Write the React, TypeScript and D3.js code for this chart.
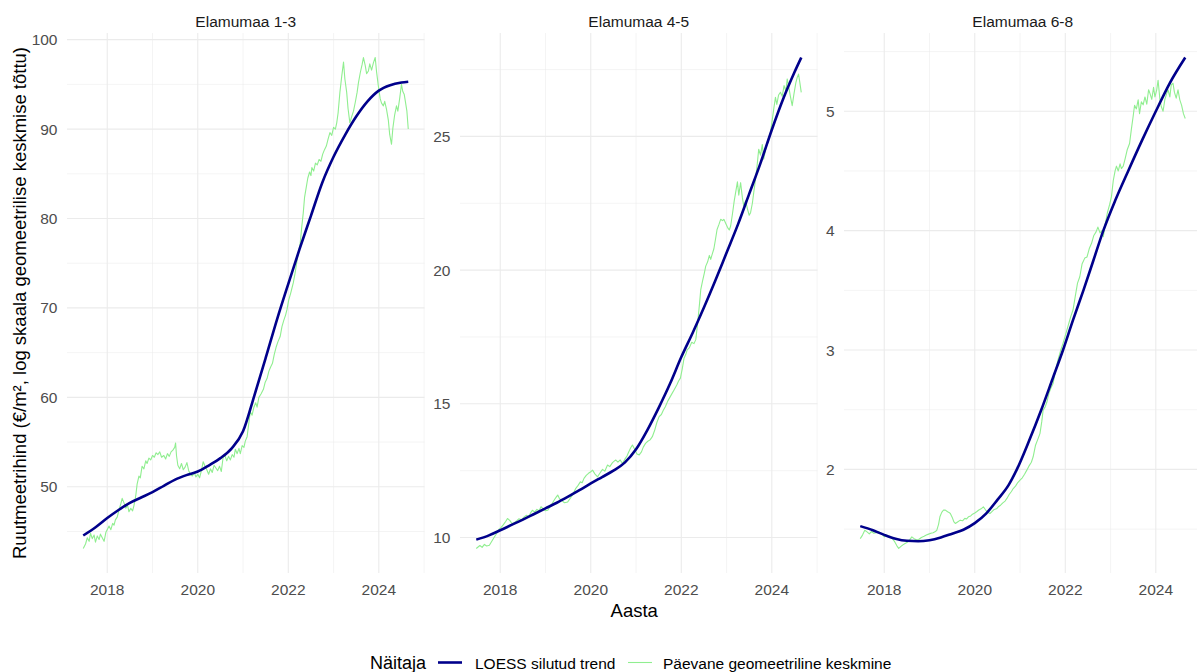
import React from "react";
import * as d3 from "d3";

// Facet titles and axis breaks
const panelTitles = ["Elamumaa 1-3", "Elamumaa 4-5", "Elamumaa 6-8"];
const xMajor = [2018, 2020, 2022, 2024];
const xMinor = [2017, 2019, 2021, 2023, 2025];
const yMajor = [
  [50, 60, 70, 80, 90, 100],
  [10, 15, 20, 25],
  [2, 3, 4, 5],
];
const yMinor = [
  [45, 55, 65, 75, 85, 95],
  [7.5, 12.5, 17.5, 22.5, 27.5],
  [1.5, 2.5, 3.5, 4.5, 5.5],
];

// Daily geometric mean price (year, €/m²)
const daily13: [number, number][] = [
  [2017.47, 43.1], [2017.52, 43.6], [2017.56, 44.3], [2017.6, 43.9], [2017.63, 44.8], [2017.67, 44.2],
  [2017.71, 44.6], [2017.74, 43.8], [2017.78, 44.5], [2017.82, 44.1], [2017.85, 44.7], [2017.89, 44.3],
  [2017.93, 43.9], [2017.97, 44.9], [2018.01, 45.3], [2018.04, 45.6], [2018.08, 45.2], [2018.12, 45.9],
  [2018.15, 45.7], [2018.18, 46.3], [2018.22, 46.6], [2018.26, 47.4], [2018.3, 48.1], [2018.33, 48.7],
  [2018.37, 48.2], [2018.41, 47.6], [2018.45, 47.9], [2018.48, 47.2], [2018.52, 47.6], [2018.56, 47.3],
  [2018.59, 47.9], [2018.63, 49.0], [2018.66, 50.3], [2018.7, 51.2], [2018.73, 51.0], [2018.77, 52.3],
  [2018.81, 52.0], [2018.85, 52.9], [2018.88, 52.6], [2018.92, 53.2], [2018.96, 53.0], [2019.0, 53.5],
  [2019.04, 53.3], [2019.08, 53.8], [2019.12, 53.6], [2019.16, 53.9], [2019.2, 53.3], [2019.25, 53.5],
  [2019.29, 53.1], [2019.33, 53.7], [2019.37, 53.4], [2019.41, 53.9], [2019.45, 54.1], [2019.49, 54.4],
  [2019.51, 54.9], [2019.53, 53.5], [2019.56, 52.4], [2019.6, 52.0], [2019.64, 52.6], [2019.68, 51.9],
  [2019.72, 52.2], [2019.76, 52.7], [2019.8, 51.8], [2019.84, 51.4], [2019.88, 51.2], [2019.92, 51.6],
  [2019.96, 51.1], [2020.0, 51.4], [2020.04, 51.0], [2020.08, 51.8], [2020.12, 52.8], [2020.16, 52.3],
  [2020.2, 51.9], [2020.24, 51.4], [2020.28, 52.0], [2020.32, 51.6], [2020.36, 52.4], [2020.4, 52.1],
  [2020.44, 51.8], [2020.48, 52.3], [2020.52, 51.7], [2020.56, 53.3], [2020.6, 53.5], [2020.64, 52.9],
  [2020.68, 53.4], [2020.72, 53.0], [2020.76, 53.6], [2020.8, 53.3], [2020.83, 54.2], [2020.87, 53.7],
  [2020.91, 54.3], [2020.94, 53.7], [2020.98, 54.6], [2021.02, 54.4], [2021.05, 55.1], [2021.09, 55.6],
  [2021.12, 56.8], [2021.16, 58.4], [2021.2, 58.0], [2021.24, 58.9], [2021.28, 59.4], [2021.31, 58.9],
  [2021.35, 60.0], [2021.4, 60.4], [2021.45, 60.9], [2021.49, 61.7], [2021.53, 62.1], [2021.57, 62.9],
  [2021.61, 63.4], [2021.65, 63.8], [2021.69, 64.8], [2021.73, 65.6], [2021.77, 66.2], [2021.82, 66.8],
  [2021.86, 67.9], [2021.9, 68.6], [2021.94, 69.2], [2021.97, 69.8], [2022.01, 70.9], [2022.05, 71.6],
  [2022.08, 72.2], [2022.11, 72.8], [2022.15, 73.9], [2022.19, 75.2], [2022.22, 76.1], [2022.26, 77.1],
  [2022.3, 79.2], [2022.33, 80.6], [2022.36, 82.4], [2022.4, 83.6], [2022.43, 84.5], [2022.47, 85.2],
  [2022.5, 84.8], [2022.52, 85.7], [2022.56, 85.3], [2022.6, 86.2], [2022.64, 86.0], [2022.68, 86.6],
  [2022.72, 86.4], [2022.76, 87.2], [2022.8, 87.7], [2022.84, 88.1], [2022.88, 88.9], [2022.92, 89.6],
  [2022.96, 89.3], [2023.0, 90.2], [2023.04, 90.0], [2023.07, 90.7], [2023.1, 91.8], [2023.14, 94.1],
  [2023.18, 95.9], [2023.22, 97.5], [2023.25, 95.6], [2023.29, 94.1], [2023.32, 92.3], [2023.36, 90.7],
  [2023.4, 91.4], [2023.44, 92.0], [2023.48, 93.0], [2023.52, 94.1], [2023.55, 95.2], [2023.59, 96.3],
  [2023.63, 97.2], [2023.66, 98.0], [2023.7, 97.1], [2023.73, 96.2], [2023.77, 96.5], [2023.8, 97.3],
  [2023.84, 96.6], [2023.88, 97.4], [2023.92, 98.0], [2023.95, 96.4], [2023.99, 94.8], [2024.03, 93.4],
  [2024.06, 92.9], [2024.1, 92.6], [2024.13, 93.1], [2024.17, 92.2], [2024.21, 91.0], [2024.24, 89.4],
  [2024.28, 88.3], [2024.31, 90.1], [2024.35, 91.6], [2024.39, 92.6], [2024.42, 92.0], [2024.46, 93.4],
  [2024.5, 95.0], [2024.53, 94.2], [2024.56, 93.9], [2024.58, 93.3], [2024.62, 92.0], [2024.65, 90.0],
];

const daily45: [number, number][] = [
  [2017.47, 9.59], [2017.55, 9.7], [2017.6, 9.63], [2017.65, 9.74], [2017.7, 9.68], [2017.76, 9.71],
  [2017.81, 9.85], [2017.87, 10.02], [2017.92, 10.15], [2017.97, 10.3], [2018.02, 10.38], [2018.07, 10.48],
  [2018.12, 10.6], [2018.16, 10.71], [2018.21, 10.64], [2018.26, 10.52], [2018.31, 10.55], [2018.36, 10.62],
  [2018.41, 10.7], [2018.47, 10.66], [2018.53, 10.77], [2018.58, 10.83], [2018.63, 10.78], [2018.67, 10.92],
  [2018.71, 11.02], [2018.76, 10.95], [2018.81, 11.05], [2018.86, 11.0], [2018.9, 11.15], [2018.95, 11.07],
  [2019.0, 11.0], [2019.05, 11.02], [2019.1, 11.15], [2019.15, 11.28], [2019.2, 11.42], [2019.24, 11.52],
  [2019.27, 11.59], [2019.31, 11.45], [2019.36, 11.38], [2019.42, 11.3], [2019.49, 11.33], [2019.54, 11.45],
  [2019.6, 11.6], [2019.67, 11.84], [2019.72, 11.95], [2019.77, 12.08], [2019.81, 12.05], [2019.85, 12.21],
  [2019.9, 12.32], [2019.95, 12.4], [2020.0, 12.46], [2020.04, 12.52], [2020.09, 12.38], [2020.15, 12.27],
  [2020.2, 12.4], [2020.26, 12.55], [2020.31, 12.48], [2020.37, 12.71], [2020.42, 12.65], [2020.48, 12.8],
  [2020.55, 12.9], [2020.6, 12.82], [2020.65, 12.9], [2020.7, 12.77], [2020.75, 12.92], [2020.8, 13.05],
  [2020.84, 13.21], [2020.88, 13.35], [2020.92, 13.46], [2020.97, 13.3], [2021.02, 13.12], [2021.07, 13.09],
  [2021.12, 13.2], [2021.16, 13.38], [2021.21, 13.52], [2021.26, 13.6], [2021.31, 13.65], [2021.36, 13.77],
  [2021.41, 14.0], [2021.46, 14.3], [2021.51, 14.52], [2021.56, 14.6], [2021.6, 14.75], [2021.65, 14.9],
  [2021.7, 15.1], [2021.75, 15.25], [2021.8, 15.4], [2021.84, 15.52], [2021.9, 15.7], [2021.94, 15.85],
  [2021.98, 15.96], [2022.02, 16.3], [2022.06, 16.7], [2022.1, 16.85], [2022.13, 17.02], [2022.18, 17.1],
  [2022.23, 17.3], [2022.28, 17.25], [2022.32, 17.4], [2022.36, 18.0], [2022.4, 18.7], [2022.43, 19.27],
  [2022.47, 19.6], [2022.51, 19.9], [2022.54, 20.15], [2022.58, 20.3], [2022.62, 20.55], [2022.65, 20.4],
  [2022.68, 20.58], [2022.72, 20.8], [2022.76, 21.2], [2022.79, 21.52], [2022.83, 21.7], [2022.87, 21.9],
  [2022.91, 21.85], [2022.94, 21.9], [2022.98, 21.75], [2023.02, 21.6], [2023.06, 21.5], [2023.09, 21.65],
  [2023.13, 22.1], [2023.17, 22.6], [2023.2, 22.9], [2023.24, 23.3], [2023.27, 22.8], [2023.31, 23.27],
  [2023.35, 22.7], [2023.38, 22.4], [2023.42, 22.6], [2023.46, 22.3], [2023.5, 22.05], [2023.53, 22.15],
  [2023.57, 22.5], [2023.6, 22.9], [2023.64, 23.4], [2023.68, 24.0], [2023.71, 24.52], [2023.75, 24.3],
  [2023.79, 24.7], [2023.82, 24.15], [2023.86, 24.5], [2023.9, 24.8], [2023.94, 25.0], [2023.97, 25.15],
  [2024.0, 25.5], [2024.04, 26.0], [2024.08, 26.46], [2024.11, 26.2], [2024.15, 26.55], [2024.19, 26.65],
  [2024.23, 26.5], [2024.27, 26.9], [2024.31, 26.7], [2024.34, 27.15], [2024.38, 26.8], [2024.41, 26.5],
  [2024.45, 26.15], [2024.49, 26.6], [2024.53, 27.0], [2024.56, 27.2], [2024.59, 27.33], [2024.62, 27.0],
  [2024.65, 26.65],
];

const daily68: [number, number][] = [
  [2017.47, 1.42], [2017.52, 1.45], [2017.57, 1.49], [2017.62, 1.477], [2017.67, 1.46], [2017.72, 1.48],
  [2017.77, 1.465], [2017.82, 1.47], [2017.87, 1.48], [2017.92, 1.465], [2017.97, 1.45], [2018.0, 1.435],
  [2018.05, 1.45], [2018.09, 1.44], [2018.13, 1.44], [2018.18, 1.42], [2018.23, 1.395], [2018.28, 1.36],
  [2018.32, 1.338], [2018.37, 1.355], [2018.42, 1.37], [2018.46, 1.38], [2018.51, 1.39], [2018.56, 1.41],
  [2018.61, 1.435], [2018.66, 1.42], [2018.71, 1.41], [2018.76, 1.413], [2018.82, 1.43], [2018.88, 1.44],
  [2018.93, 1.45], [2018.98, 1.458], [2019.03, 1.465], [2019.08, 1.47], [2019.13, 1.48], [2019.16, 1.49],
  [2019.2, 1.54], [2019.23, 1.603], [2019.27, 1.64], [2019.31, 1.66], [2019.35, 1.659], [2019.4, 1.645],
  [2019.43, 1.64], [2019.46, 1.631], [2019.5, 1.6], [2019.54, 1.56], [2019.57, 1.547], [2019.62, 1.56],
  [2019.68, 1.575], [2019.73, 1.57], [2019.78, 1.59], [2019.82, 1.585], [2019.86, 1.603], [2019.91, 1.61],
  [2019.95, 1.625], [2020.0, 1.635], [2020.04, 1.645], [2020.09, 1.66], [2020.14, 1.67], [2020.19, 1.687],
  [2020.24, 1.66], [2020.29, 1.64], [2020.34, 1.631], [2020.39, 1.65], [2020.43, 1.665], [2020.48, 1.67],
  [2020.52, 1.687], [2020.57, 1.7], [2020.62, 1.72], [2020.67, 1.735], [2020.71, 1.757], [2020.76, 1.79],
  [2020.81, 1.815], [2020.85, 1.84], [2020.9, 1.86], [2020.95, 1.89], [2021.0, 1.91], [2021.05, 1.93],
  [2021.1, 1.96], [2021.15, 1.994], [2021.2, 2.03], [2021.25, 2.06], [2021.29, 2.106], [2021.34, 2.2],
  [2021.39, 2.25], [2021.44, 2.3], [2021.48, 2.4], [2021.51, 2.497], [2021.55, 2.52], [2021.59, 2.56],
  [2021.64, 2.64], [2021.68, 2.68], [2021.73, 2.72], [2021.78, 2.82], [2021.84, 2.92], [2021.9, 3.0],
  [2021.95, 3.056], [2022.0, 3.12], [2022.06, 3.2], [2022.12, 3.28], [2022.17, 3.335], [2022.22, 3.45],
  [2022.27, 3.56], [2022.32, 3.614], [2022.37, 3.72], [2022.43, 3.77], [2022.48, 3.78], [2022.53, 3.85],
  [2022.58, 3.894], [2022.63, 3.96], [2022.68, 3.99], [2022.72, 4.03], [2022.77, 3.98], [2022.81, 4.0],
  [2022.84, 3.95], [2022.88, 4.05], [2022.93, 4.15], [2022.98, 4.22], [2023.02, 4.285], [2023.06, 4.42],
  [2023.1, 4.5], [2023.13, 4.54], [2023.17, 4.5], [2023.21, 4.56], [2023.24, 4.52], [2023.28, 4.54],
  [2023.32, 4.6], [2023.37, 4.68], [2023.42, 4.73], [2023.46, 4.85], [2023.5, 4.96], [2023.53, 5.05],
  [2023.57, 5.02], [2023.61, 5.096], [2023.64, 4.98], [2023.68, 5.08], [2023.72, 5.054], [2023.76, 5.12],
  [2023.8, 5.06], [2023.84, 5.18], [2023.87, 5.15], [2023.91, 5.1], [2023.95, 5.2], [2023.98, 5.12],
  [2024.02, 5.18], [2024.05, 5.26], [2024.09, 5.1], [2024.12, 5.04], [2024.16, 5.0], [2024.2, 5.1],
  [2024.24, 5.15], [2024.27, 5.18], [2024.31, 5.12], [2024.34, 5.22], [2024.38, 5.235], [2024.41, 5.16],
  [2024.45, 5.11], [2024.49, 5.18], [2024.53, 5.096], [2024.57, 5.05], [2024.61, 4.98], [2024.65, 4.94],
];

// LOESS smoothed trend (year, €/m²)
const trend13: [number, number][] = [
  [2017.47, 44.55], [2017.75, 45.5], [2018.0, 46.5], [2018.25, 47.4], [2018.5, 48.2], [2018.75, 48.8],
  [2019.0, 49.4], [2019.25, 50.1], [2019.5, 50.8], [2019.75, 51.3], [2020.0, 51.7], [2020.25, 52.4],
  [2020.5, 53.2], [2020.75, 54.3], [2021.0, 56.2], [2021.25, 60.2], [2021.5, 64.4], [2021.75, 68.7],
  [2022.0, 72.7], [2022.25, 76.6], [2022.5, 80.3], [2022.75, 84.0], [2023.0, 86.9], [2023.25, 89.3],
  [2023.5, 91.4], [2023.75, 93.1], [2024.0, 94.3], [2024.25, 94.9], [2024.5, 95.2], [2024.65, 95.3],
];

const trend45: [number, number][] = [
  [2017.47, 9.92], [2017.75, 10.08], [2018.0, 10.27], [2018.25, 10.47], [2018.5, 10.67], [2018.75, 10.88],
  [2019.0, 11.09], [2019.25, 11.3], [2019.5, 11.53], [2019.75, 11.77], [2020.0, 12.02], [2020.25, 12.26],
  [2020.5, 12.5], [2020.75, 12.8], [2021.0, 13.3], [2021.25, 14.02], [2021.5, 14.85], [2021.75, 15.75],
  [2022.0, 16.75], [2022.25, 17.65], [2022.5, 18.6], [2022.75, 19.6], [2023.0, 20.65], [2023.25, 21.7],
  [2023.5, 22.85], [2023.75, 24.0], [2024.0, 25.25], [2024.25, 26.4], [2024.5, 27.4], [2024.65, 27.95],
];

const trend68: [number, number][] = [
  [2017.47, 1.525], [2017.75, 1.49], [2018.0, 1.452], [2018.25, 1.42], [2018.5, 1.402], [2018.75, 1.398],
  [2019.0, 1.407], [2019.25, 1.43], [2019.5, 1.462], [2019.75, 1.495], [2020.0, 1.55], [2020.25, 1.63],
  [2020.5, 1.745], [2020.75, 1.87], [2020.93, 2.0], [2021.2, 2.24], [2021.47, 2.5], [2021.72, 2.76],
  [2021.95, 3.0], [2022.17, 3.25], [2022.4, 3.5], [2022.62, 3.75], [2022.84, 4.0], [2023.1, 4.25],
  [2023.39, 4.5], [2023.7, 4.76], [2024.0, 5.0], [2024.3, 5.23], [2024.65, 5.45],
];

const dailySeries = [daily13, daily45, daily68];
const trendSeries = [trend13, trend45, trend68];

const legendTitle = "Näitaja";
const legendLabels = ["LOESS silutud trend", "Päevane geomeetriline keskmine"];
const xTitle = "Aasta";
const yTitle = "Ruutmeetrihind (€/m², log skaala geomeetrilise keskmise tõttu)";

const W = 1197;
const H = 672;
const FONT = "'Liberation Sans', Arial, Helvetica, sans-serif";
const TREND_COLOR = "#00008B";
const DAILY_COLOR = "#90EE90";
const GRID = "#EBEBEB";
const TICK_COLOR = "#4D4D4D";

const panelLefts = [67, 460, 844];
const panelWidth = 357.5;
const plotTop = 33;
const plotBottom = 573;

// ggplot-style 5% expansion around the data range
function expand(ext: [number, number], mult = 0.05): [number, number] {
  const pad = (ext[1] - ext[0]) * mult;
  return [ext[0] - pad, ext[1] + pad];
}

export default function App() {
  const allX = dailySeries.flat().concat(trendSeries.flat()).map((d) => d[0]);
  const xDomain = expand(d3.extent(allX) as [number, number]);

  const panels = panelTitles.map((title, i) => {
    const left = panelLefts[i];
    const x = d3.scaleLinear().domain(xDomain).range([left, left + panelWidth]);
    const yVals = dailySeries[i].concat(trendSeries[i]).map((d) => d[1]);
    const y = d3
      .scaleLinear()
      .domain(expand(d3.extent(yVals) as [number, number]))
      .range([plotBottom, plotTop]);
    const dailyLine = d3
      .line<[number, number]>()
      .x((d) => x(d[0]))
      .y((d) => y(d[1]));
    const trendLine = d3
      .line<[number, number]>()
      .x((d) => x(d[0]))
      .y((d) => y(d[1]))
      .curve(d3.curveMonotoneX);
    const [y0, y1] = y.domain();
    const inY = (v: number) => v >= y0 && v <= y1;
    const inX = (v: number) => v >= xDomain[0] - 0.02 && v <= xDomain[1] + 0.02;
    return (
      <g key={title}>
        {yMinor[i].filter(inY).map((v) => (
          <line key={"ym" + v} x1={left} x2={left + panelWidth} y1={y(v)} y2={y(v)} stroke={GRID} strokeWidth={0.55} />
        ))}
        {xMinor.filter(inX).map((v) => (
          <line key={"xm" + v} x1={x(v)} x2={x(v)} y1={plotTop} y2={plotBottom} stroke={GRID} strokeWidth={0.55} />
        ))}
        {yMajor[i].filter(inY).map((v) => (
          <line key={"yM" + v} x1={left} x2={left + panelWidth} y1={y(v)} y2={y(v)} stroke={GRID} strokeWidth={1.1} />
        ))}
        {xMajor.filter(inX).map((v) => (
          <line key={"xM" + v} x1={x(v)} x2={x(v)} y1={plotTop} y2={plotBottom} stroke={GRID} strokeWidth={1.1} />
        ))}
        <path d={dailyLine(dailySeries[i]) ?? ""} fill="none" stroke={DAILY_COLOR} strokeWidth={1.1} strokeLinejoin="round" />
        <path d={trendLine(trendSeries[i]) ?? ""} fill="none" stroke={TREND_COLOR} strokeWidth={2.6} strokeLinejoin="round" />
        {yMajor[i].filter(inY).map((v) => (
          <text key={"yl" + v} x={left - 9.5} y={y(v)} dy="0.36em" textAnchor="end" fontSize={15.5} fill={TICK_COLOR}>
            {v}
          </text>
        ))}
        {xMajor.filter(inX).map((v) => (
          <text key={"xl" + v} x={x(v)} y={595} textAnchor="middle" fontSize={15.5} fill={TICK_COLOR}>
            {v}
          </text>
        ))}
        <text x={left + panelWidth / 2} y={26.5} textAnchor="middle" fontSize={15.5} fill="#1A1A1A">
          {title}
        </text>
      </g>
    );
  });

  const centerX = (panelLefts[0] + panelLefts[2] + panelWidth) / 2;

  return (
    <svg
      width={W}
      height={H}
      style={{ position: "absolute", left: 0, top: 0, background: "#FFFFFF" }}
      fontFamily={FONT}
    >
      <rect x={0} y={0} width={W} height={H} fill="#FFFFFF" />
      {panels}
      <text x={centerX} y={617} textAnchor="middle" fontSize={18.5} fill="#000000">
        {xTitle}
      </text>
      <text transform={`translate(26,303) rotate(-90)`} textAnchor="middle" fontSize={18.5} fill="#000000">
        {yTitle}
      </text>
      <g>
        <text x={370} y={668.5} fontSize={18} fill="#000000">
          {legendTitle}
        </text>
        <line x1={438} x2={462} y1={662.5} y2={662.5} stroke={TREND_COLOR} strokeWidth={2.6} />
        <text x={475} y={668.5} fontSize={15.5} fill="#000000">
          {legendLabels[0]}
        </text>
        <line x1={628} x2={652} y1={662.5} y2={662.5} stroke={DAILY_COLOR} strokeWidth={1.1} />
        <text x={663} y={668.5} fontSize={15.5} fill="#000000">
          {legendLabels[1]}
        </text>
      </g>
    </svg>
  );
}
